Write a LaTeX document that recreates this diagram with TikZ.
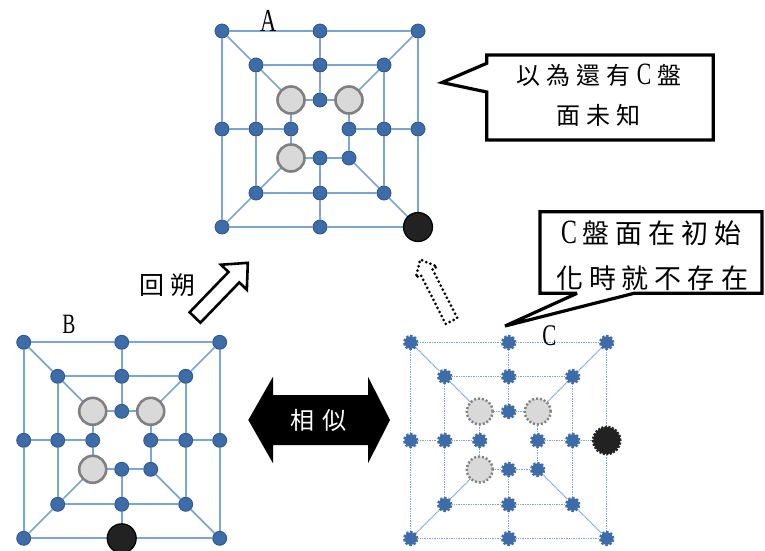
\documentclass[tikz,border=0pt]{standalone}
\usepackage{fontspec}
\newfontfamily\cjk{Noto Sans CJK TC}
\newfontfamily\latc[FakeStretch=0.7]{Liberation Serif}
\definecolor{nodeblue}{HTML}{3D6CA8}
\definecolor{nodeedge}{HTML}{2C5488}
\definecolor{lineblue}{HTML}{7AA5D8}
\definecolor{pgray}{HTML}{D9D9D9}
\definecolor{pedge}{HTML}{808080}
\definecolor{pblack}{HTML}{222222}
\newcommand\gp[1]{\hspace{#1pt}}
\tikzset{
  bnode/.style={circle, fill=nodeblue, draw=nodeedge, line width=0.8pt, minimum size=14pt, inner sep=0pt},
  cnode/.style={circle, fill=nodeblue, draw=nodeblue, line width=2.8pt, dash pattern=on 2.2pt off 1.8pt, minimum size=12.5pt, inner sep=0pt},
  bedge/.style={draw=lineblue, line width=1.7pt},
  cedge/.style={draw=lineblue, line width=1.3pt, dash pattern=on 1pt off 0.7pt},
  gpiece/.style={circle, fill=pgray, draw=pedge, line width=2.6pt, minimum size=27pt, inner sep=0pt},
  kpiece/.style={circle, fill=pblack, draw=black, line width=1.2pt, minimum size=29pt, inner sep=0pt},
  gpiecec/.style={circle, fill=pgray, draw=pedge, line width=2.4pt, dash pattern=on 2pt off 2pt, minimum size=26pt, inner sep=0pt},
  kpiecec/.style={circle, fill=pblack, draw=pblack, line width=2.6pt, dash pattern=on 2pt off 1.5pt, minimum size=27pt, inner sep=0pt},
  callout/.style={draw=black, fill=white, line width=3.2pt, line join=miter, miter limit=4},
  lbl/.style={anchor=base, inner sep=0pt},
  cjktext/.style={anchor=base, inner sep=0pt},
}
\newcommand\mboard[5]{%
  \foreach \nm/\dx/\dy in {otl/-98/-98,otm/0/-98,otr/98/-98,oml/-98/0,omr/98/0,obl/-98/98,obm/0/98,obr/98/98,
     mtl/-64/-64,mtm/0/-64,mtr/64/-64,mml/-64/0,mmr/64/0,mbl/-64/64,mbm/0/64,mbr/64/64,
     itl/-29/-29,itm/0/-29,itr/29/-29,iml/-29/0,imr/29/0,ibl/-29/29,ibm/0/29,ibr/29/29}
    {\node[#4] (#1\nm) at (#2+\dx,#3+\dy) {};}
  \foreach \pa/\pb in {otl/otm,otm/otr,otr/omr,omr/obr,obr/obm,obm/obl,obl/oml,oml/otl,
     mtl/mtm,mtm/mtr,mtr/mmr,mmr/mbr,mbr/mbm,mbm/mbl,mbl/mml,mml/mtl,
     itl/itm,itm/itr,itr/imr,imr/ibr,ibr/ibm,ibm/ibl,ibl/iml,iml/itl,
     otl/mtl,mtl/itl,otr/mtr,mtr/itr,obl/mbl,mbl/ibl,obr/mbr,mbr/ibr,
     otm/mtm,mtm/itm,oml/mml,mml/iml,omr/mmr,mmr/imr,obm/mbm,mbm/ibm}
    {\draw[#5] (#1\pa) -- (#1\pb);}
}
\begin{document}
\begin{tikzpicture}[x=1pt,y=-1pt]
\useasboundingbox (0,0) rectangle (765,550);
\fill[white] (0,0) rectangle (765,550);

% boards
\mboard{A}{320}{129}{bnode}{bedge}
\mboard{B}{121.7}{440.3}{bnode}{bedge}
\mboard{C}{508.7}{440.5}{cnode}{cedge}

% pieces
\node[gpiece] (Ap1) at (Aitl) {};
\node[gpiece] (Ap2) at (Aitr) {};
\node[gpiece] (Ap3) at (Aibl) {};
\node[kpiece] (Ak) at (Aobr) {};
\node[gpiece] (Bp1) at (Bitl) {};
\node[gpiece] (Bp2) at (Bitr) {};
\node[gpiece] (Bp3) at (Bibl) {};
\node[kpiece] (Bk) at (Bobm) {};
\node[gpiecec] (Cp1) at (Citl) {};
\node[gpiecec] (Cp2) at (Citr) {};
\node[gpiecec] (Cp3) at (Cibl) {};
\node[kpiecec] (Ck) at (Comr) {};

% labels
\node[lbl, font=\latc\fontsize{32}{32}\selectfont] (labA) at (268.3,31.7) {A};
\node[lbl, font=\latc\fontsize{28}{28}\selectfont] (labB) at (69,333.3) {B};
\node[lbl, font=\latc\fontsize{30}{30}\selectfont] (labC) at (549.3,345) {C};

% callout A
\draw[callout] (486.7,55) -- (713.3,55) -- (713.3,140) -- (486.7,140) -- (486.7,92) -- (442,82.5) -- (486.7,63.3) -- cycle;
\node[cjktext, font=\cjk\fontsize{24}{24}\selectfont] (ta1) at (599,84)
  {以\gp{6}為\gp{6}還\gp{6}有\gp{6}{\latc\fontsize{31}{31}\selectfont C}\gp{6}盤};
\node[cjktext, font=\cjk\fontsize{24}{24}\selectfont] (ta2) at (598,124)
  {面\gp{6}未\gp{6}知};

% callout C
\draw[callout] (540,211.7) -- (762,211.7) -- (762,293.3) -- (634,293.3) -- (505,326) -- (577,293.3) -- (540,293.3) -- cycle;
\node[cjktext, font=\cjk\fontsize{27}{27}\selectfont] (tc1) at (651.5,243)
  {{\latc\fontsize{34}{34}\selectfont C}\gp{6}盤\gp{6}面\gp{6}在\gp{6}初\gp{6}始};
\node[cjktext, font=\cjk\fontsize{27}{27}\selectfont] (tc2) at (652,288)
  {化\gp{6}時\gp{6}就\gp{6}不\gp{6}存\gp{6}在};

% hollow arrow (back-trace)
\draw[line width=2.6pt, fill=white, line join=miter, shift={(195,317.5)}, rotate=46]
  (0,-7.5) -- (56,-7.5) -- (56,-18) -- (76,0) -- (56,18) -- (56,7.5) -- (0,7.5) -- cycle;
\node[cjktext, font=\cjk\fontsize{25}{25}\selectfont] (tb) at (167.5,294) {回\gp{6}朔};

% dotted arrow
\draw[line width=3pt, dash pattern=on 0pt off 4.5pt, line cap=round, shift={(451.5,321)}, rotate=117]
  (0,-6.5) -- (55,-6.5) -- (55,-12) -- (69,0) -- (55,12) -- (55,6.5) -- (0,6.5) -- cycle;

% double arrow
\fill[black] (248.3,420) -- (273,376.7) -- (273,395) -- (368,395) -- (368,376.7) -- (390,420)
  -- (368,463.3) -- (368,445) -- (273,445) -- (273,463.3) -- cycle;
\node[cjktext, text=white, font=\cjk\fontsize{24}{24}\selectfont] (ts) at (318.3,429) {相\gp{8}似};
\end{tikzpicture}
\end{document}
